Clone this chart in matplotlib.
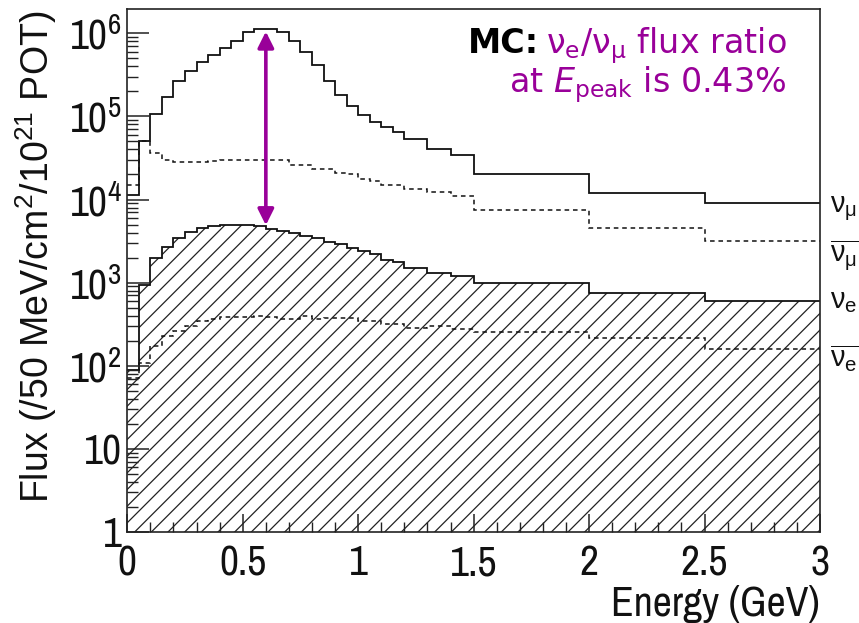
import math
import matplotlib
matplotlib.use('Agg')
import matplotlib.pyplot as plt
from matplotlib import font_manager as fm
from matplotlib.ticker import FixedLocator, FuncFormatter, MultipleLocator

# ---------- pick a narrow sans font if one is installed ----------
entries = fm.fontManager.ttflist
names = {f.name for f in entries}
NARROW_FAMILY = None
NARROW_STRETCH = 'normal'
for n in sorted(names):
    if ('Narrow' in n or 'Condensed' in n) and 'Mono' not in n and 'Serif' not in n:
        NARROW_FAMILY = n
        break
if NARROW_FAMILY is None:
    for f in entries:
        if f.name in ('Liberation Sans', 'DejaVu Sans') and str(f.stretch) in ('condensed', 'semi-condensed', '300', '400') \
                and 'Bold' not in f.fname and 'Oblique' not in f.fname and 'Italic' not in f.fname:
            NARROW_FAMILY = f.name
            NARROW_STRETCH = 'condensed'
            break
if NARROW_FAMILY is None:
    NARROW_FAMILY = 'Liberation Sans'
    TICK_SIZE = 25
else:
    TICK_SIZE = 30

ANNOT = 'DejaVu Sans'

plt.rcParams['mathtext.default'] = 'regular'
plt.rcParams['mathtext.fontset'] = 'custom'
plt.rcParams['mathtext.it'] = ANNOT + ':italic'
plt.rcParams['mathtext.rm'] = ANNOT
plt.rcParams['hatch.linewidth'] = 0.9

# ---------------- data ----------------
bin_edges = [0.00, 0.05, 0.10, 0.15, 0.20, 0.25, 0.30, 0.35, 0.40, 0.45,
             0.50, 0.55, 0.60, 0.65, 0.70, 0.75, 0.80, 0.85, 0.90, 0.95,
             1.00, 1.05, 1.10, 1.15, 1.20, 1.30, 1.40, 1.50, 2.00, 2.50, 3.00]

flux_numu = [1.13e4, 5.1e4, 1.07e5, 1.72e5, 2.65e5, 3.5e5, 4.55e5, 5.5e5, 6.6e5, 8.15e5,
             1.03e6, 1.13e6, 1.13e6, 1.03e6, 8.15e5, 5.9e5, 4.1e5, 2.65e5, 1.8e5, 1.34e5,
             1.03e5, 8.6e4, 7.5e4, 6.4e4, 5.3e4, 4.1e4, 3.4e4, 2.04e4, 1.2e4, 9.0e3]

flux_numubar = [1.5e4, 5.0e4, 3.6e4, 3.0e4, 2.8e4, 2.8e4, 2.8e4, 2.9e4, 3.0e4, 3.0e4,
                3.0e4, 3.0e4, 3.0e4, 3.0e4, 2.6e4, 2.6e4, 2.35e4, 2.35e4, 2.1e4, 2.0e4,
                1.78e4, 1.65e4, 1.5e4, 1.48e4, 1.35e4, 1.24e4, 1.1e4, 7.4e3, 4.6e3, 3.2e3]

flux_nue = [90, 930, 1960, 2720, 3400, 4100, 4500, 4750, 4900, 4900,
            4900, 4750, 4400, 4200, 3950, 3660, 3400, 3100, 2900, 2600,
            2400, 2200, 1870, 1750, 1520, 1300, 1210, 985, 760, 600]

flux_nuebar = [72, 108, 172, 228, 261, 300, 345, 368, 390, 390,
               390, 398, 390, 368, 368, 398, 368, 378, 378, 378,
               345, 345, 315, 315, 287, 300, 274, 254, 217, 161]

y_tick_values = [1, 10, 1e2, 1e3, 1e4, 1e5, 1e6]
x_tick_values = [0, 0.5, 1, 1.5, 2, 2.5, 3]

arrow_energy = 0.6
arrow_top = 1.05e6
arrow_bottom = 4.9e3

PURPLE = '#990099'

# ---------------- figure ----------------
fig = plt.figure(figsize=(8.59, 6.23), dpi=100)
ax = fig.add_axes([0.1482, 0.1461, 0.8064, 0.8395])
ax.set_yscale('log')
ax.set_xlim(0, 3)
ax.set_ylim(1, 1.96e6)

# nu_e hatched area
ax.stairs(flux_nue, bin_edges, baseline=1, fill=True, facecolor='none',
          edgecolor='#222222', hatch='//', linewidth=0)
ax.stairs(flux_nue, bin_edges, baseline=None, color='#111111', lw=1.3)
ax.stairs(flux_numu, bin_edges, baseline=None, color='#111111', lw=1.3)
ax.stairs(flux_numubar, bin_edges, baseline=None, color='#111111', lw=1.1,
          linestyle=(0, (3, 2.5)))
ax.stairs(flux_nuebar, bin_edges, baseline=None, color='#111111', lw=1.1,
          linestyle=(0, (3, 2.5)))

# arrow
ax.annotate('', xy=(arrow_energy, arrow_top), xytext=(arrow_energy, arrow_bottom),
            arrowprops=dict(arrowstyle='<|-|>', color=PURPLE, lw=2.6,
                            mutation_scale=24, shrinkA=0, shrinkB=0))

# axes styling
for s in ax.spines.values():
    s.set_linewidth(1.2)
    s.set_color('#222222')

ax.xaxis.set_major_locator(FixedLocator(x_tick_values))
ax.xaxis.set_minor_locator(MultipleLocator(0.1))
ax.xaxis.set_major_formatter(FuncFormatter(lambda v, p: ('%g' % v)))
ax.yaxis.set_major_locator(FixedLocator(y_tick_values))

def yfmt(v, p):
    if v == 1:
        return '1'
    if v == 10:
        return '10'
    return r'$10^{%d}$' % round(math.log10(v))

ax.yaxis.set_major_formatter(FuncFormatter(yfmt))
ax.tick_params(axis='both', which='both', direction='in', top=False, right=False,
               colors='#222222')
ax.tick_params(axis='y', which='major', length=16, width=1.1, pad=4)
ax.tick_params(axis='y', which='minor', length=8, width=1.0)
ax.tick_params(axis='x', which='major', length=13, width=1.1, pad=9)
ax.tick_params(axis='x', which='minor', length=7, width=1.0)
for lab in ax.get_xticklabels() + ax.get_yticklabels():
    lab.set_fontfamily(NARROW_FAMILY)
    lab.set_fontstretch(NARROW_STRETCH)
    lab.set_fontsize(TICK_SIZE)
    lab.set_color('#111111')

ax.set_ylabel(r'Flux (/50 MeV/cm$^{2}$/10$^{21}$ POT)', fontfamily='Liberation Sans',
              fontsize=27, color='#111111')
ax.yaxis.set_label_coords(-0.098, 0.526)
ax.set_xlabel('Energy (GeV)', fontfamily=NARROW_FAMILY, fontstretch=NARROW_STRETCH,
              fontsize=TICK_SIZE, color='#111111', ha='right', x=1.0)
ax.xaxis.labelpad = 2

# right-hand labels
lab_x = 1.0145
right_labels = [(r'$\nu_{\mu}$', 0.612), (r'$\overline{\nu_{\mu}}$', 0.516),
                (r'$\nu_{e}$', 0.428), (r'$\overline{\nu_{e}}$', 0.315)]
for txt, yy in right_labels:
    ax.text(lab_x, yy, txt, transform=ax.transAxes, fontfamily='Liberation Sans',
            fontsize=21, color='#111111', ha='left', va='baseline', clip_on=False)

# annotation
ANN_SIZE = 24
t1 = ax.text(0.952, 0.916, r'$\nu_{e}/\nu_{\mu}$ flux ratio', transform=ax.transAxes,
             fontfamily=ANNOT, fontsize=ANN_SIZE, color=PURPLE, ha='right', va='baseline')
t2 = ax.text(0.952, 0.841, r'at $\mathit{E}_{peak}$ is 0.43%', transform=ax.transAxes,
             fontfamily=ANNOT, fontsize=ANN_SIZE, color=PURPLE, ha='right', va='baseline')
fig.canvas.draw()
r = fig.canvas.get_renderer()
bb = t1.get_window_extent(r)
x_ax = ax.transAxes.inverted().transform((bb.x0 - 7, 0))[0]
ax.text(x_ax, 0.916, 'MC:', transform=ax.transAxes, fontfamily=ANNOT, fontsize=ANN_SIZE,
        fontweight='bold', color='black', ha='right', va='baseline')

fig.savefig('out.png', dpi=100)
